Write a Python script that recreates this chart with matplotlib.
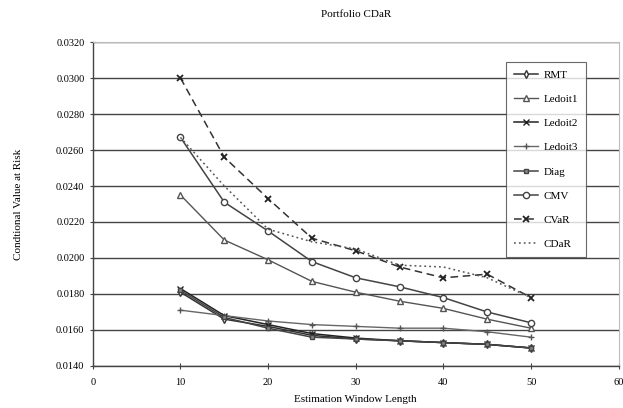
import numpy as np
import matplotlib.pyplot as plt

window = [10, 15, 20, 25, 30, 35, 40, 45, 50]

rmt = [0.0181, 0.0166, 0.0162, 0.0157, 0.0155, 0.0154, 0.0153, 0.0152, 0.0150]
ledoit1 = [0.0235, 0.0210, 0.0199, 0.0187, 0.0181, 0.0176, 0.0172, 0.0166, 0.0161]
ledoit2 = [0.0183, 0.0168, 0.0163, 0.0158, 0.01555, 0.0154, 0.0153, 0.0152, 0.0150]
ledoit3 = [0.0171, 0.0168, 0.0165, 0.0163, 0.0162, 0.0161, 0.0161, 0.0159, 0.0156]
diag = [0.0182, 0.0167, 0.0161, 0.0156, 0.0155, 0.0154, 0.0153, 0.0152, 0.0150]
cmv = [0.0267, 0.0231, 0.0215, 0.0198, 0.0189, 0.0184, 0.0178, 0.0170, 0.0164]
cvar = [0.0300, 0.0256, 0.0233, 0.0211, 0.0204, 0.0195, 0.0189, 0.0191, 0.0178]
cdar = [0.0267, 0.0240, 0.0216, 0.0209, 0.0205, 0.0196, 0.0195, 0.0189, 0.0178]

yticks = np.arange(0.014, 0.0321, 0.002)

plt.rcParams['font.family'] = ['Liberation Serif', 'DejaVu Serif']

fig = plt.figure(figsize=(6.23, 4.08), dpi=100)
ax = fig.add_axes([0.149, 0.103, 0.844, 0.794])

ms = 4
ax.plot(window, rmt, color='#333333', lw=1.1, marker='d', ms=ms, mfc='white', mec='#333333', label='RMT')
ax.plot(window, ledoit1, color='#555555', lw=1.0, marker='^', ms=ms, mfc='white', mec='#555555', label='Ledoit1')
ax.plot(window, ledoit2, color='#222222', lw=1.1, marker='x', ms=ms, mec='#222222', label='Ledoit2')
ax.plot(window, ledoit3, color='#666666', lw=1.0, marker='+', ms=ms + 1, mec='#555555', label='Ledoit3')
ax.plot(window, diag, color='#444444', lw=1.1, marker='s', ms=ms - 0.5, mfc='#888888', mec='#444444', label='Diag')
ax.plot(window, cmv, color='#444444', lw=1.1, marker='o', ms=ms + 0.5, mfc='white', mec='#444444', label='CMV')
ax.plot(window, cvar, color='#333333', lw=1.1, ls=(0, (5, 3)), marker='x', ms=ms + 0.5, mec='#222222', mew=1.3, label='CVaR')
ax.plot(window, cdar, color='#555555', lw=1.1, ls=(0, (1.2, 2)), label='CDaR')

ax.set_xlim(0, 60)
ax.set_ylim(0.014, 0.032)
ax.set_xticks(range(0, 61, 10))
ax.set_yticks(yticks)
ax.set_yticklabels(['%.4f' % v for v in yticks])
ax.grid(axis='y', color='#444444', lw=1.0)
ax.set_axisbelow(True)
ax.tick_params(labelsize=7.5, length=5, direction='inout', color='#444444', width=0.8)
ax.tick_params(axis='x', pad=6)

for s in ['left', 'bottom']:
    ax.spines[s].set_color('#444444')
    ax.spines[s].set_linewidth(1.0)
for s in ['top', 'right']:
    ax.spines[s].set_color('#bbbbbb')

ax.set_title('Portfolio CDaR', fontsize=8, pad=18)
ax.set_xlabel('Estimation Window Length', fontsize=8, labelpad=6)
ax.set_ylabel('Condtional Value at Risk', fontsize=8, labelpad=24)

leg = ax.legend(loc='upper left', bbox_to_anchor=(0.775, 0.955), fontsize=8, frameon=True,
                fancybox=False, edgecolor='#444444', handlelength=2.2, labelspacing=1.3,
                borderpad=0.7, handletextpad=0.5)
leg.get_frame().set_linewidth(0.8)

fig.savefig('out.png', dpi=100)
